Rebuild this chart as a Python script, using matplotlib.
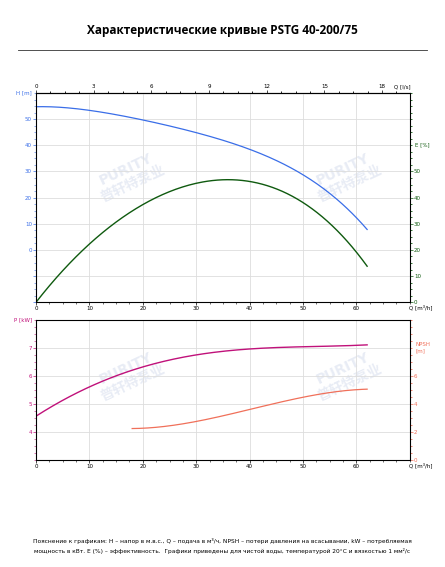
import numpy as np
import matplotlib.pyplot as plt
from matplotlib.ticker import MultipleLocator

# данные
q_h = [0, 5, 10, 15, 20, 25, 30, 35, 40, 45, 50, 56, 62]
h = [55, 54.2, 53, 51.7, 50, 47.8, 45, 41.7, 38, 33.8, 29, 20.5, 7.5]
q_e = [0, 5, 10, 15, 20, 25, 30, 35, 40, 45, 50, 55, 58, 62]
eff = [0, 12, 22.5, 30.5, 37, 42.5, 45.7, 47, 46, 43, 38, 30.5, 24, 13.6]
q_p = [0, 5, 10, 15, 20, 25, 30, 35, 40, 45, 50, 55, 62]
power = [4.57, 5.1, 5.62, 6.0, 6.32, 6.56, 6.75, 6.88, 6.95, 7.0, 7.04, 7.07, 7.1]
q_n = [18, 22, 25, 30, 35, 40, 45, 50, 55, 58, 62]
npsh = [2.25, 2.3, 2.4, 2.75, 3.15, 3.62, 4.05, 4.45, 4.8, 4.95, 5.05]

c_h = '#3a6ee8'
c_e = '#0f5a0f'
c_p = '#c0117a'
c_n = '#f0705a'
tfs = 4


def smooth(ax, x, y, deg, **kw):
    # сглаженная кривая через считанные точки
    p = np.polyfit(x, y, deg)
    xs = np.linspace(min(x), max(x), 200)
    ax.plot(xs, np.polyval(p, xs), **kw)


fig = plt.figure(figsize=(4.45, 5.67), dpi=100)
fig.text(0.5, 0.947, 'Характеристические кривые PSTG 40-200/75', ha='center',
         va='center', fontsize=8.5, fontweight='bold', family='Open Sans')
fig.add_artist(plt.Line2D([0.04, 0.96], [0.912, 0.912], color='#333333', lw=0.6))


def style(ax, lc):
    ax.set_xlim(0, 70)
    ax.xaxis.set_major_locator(MultipleLocator(10))
    ax.xaxis.set_minor_locator(MultipleLocator(2.5))
    ax.grid(True, which='major', color='#dddddd', lw=0.6)
    ax.tick_params(labelsize=tfs, length=2, width=0.5, pad=1)
    ax.tick_params(which='minor', length=1.2, width=0.4)
    ax.tick_params(axis='y', colors=lc)
    for s in ax.spines.values():
        s.set_color('#888888')
        s.set_linewidth(0.6)


# верхний график: H и КПД
ax1 = fig.add_axes([0.081, 0.467, 0.84, 0.369])
style(ax1, c_h)
ax1.set_ylim(-20, 60)
ax1.set_yticks([-20, -10, 0, 10, 20, 30, 40, 50])
ax1.set_yticklabels(['', '', '0', '10', '20', '30', '40', '50'])
ax1.yaxis.set_minor_locator(MultipleLocator(2.5))
ax1.tick_params(axis='y', which='minor', colors=c_h)
smooth(ax1, q_h, h, 4, color=c_h, lw=0.9)
ax1.set_xticks(range(0, 70, 10))
ax1.text(72, -20.8, 'Q [m³/h]', fontsize=tfs, va='top', ha='center')
ax1.text(-0.8, 60, 'H [m]', fontsize=tfs, color=c_h, ha='right', va='center')

ax1e = ax1.twinx()
ax1e.set_ylim(0, 80)
ax1e.set_yticks(range(0, 60, 10))
ax1e.yaxis.set_minor_locator(MultipleLocator(2.5))
ax1e.tick_params(labelsize=tfs, length=2, width=0.5, pad=1, colors=c_e)
ax1e.tick_params(which='minor', length=1.2, colors=c_e)
smooth(ax1e, q_e, eff, 4, color=c_e, lw=1.0)
ax1e.text(71, 60, 'E [%]', fontsize=tfs, color=c_e, va='center')

top = ax1.secondary_xaxis('top', functions=(lambda x: x / 3.6, lambda x: x * 3.6))
top.set_xticks(range(0, 19, 3))
top.xaxis.set_minor_locator(MultipleLocator(0.75))
top.tick_params(labelsize=tfs, length=2, width=0.5, pad=1)
top.tick_params(which='minor', length=1.2)
ax1.text(68.5, 61.8, 'Q [l/s]', fontsize=tfs, ha='center')

# нижний график: P и NPSH
ax2 = fig.add_axes([0.081, 0.189, 0.84, 0.247])
style(ax2, c_p)
ax2.set_ylim(3, 8)
ax2.set_yticks([4, 5, 6, 7])
ax2.yaxis.set_minor_locator(MultipleLocator(0.25))
ax2.tick_params(axis='y', which='minor', colors=c_p)
ax2.set_xticks(range(0, 70, 10))
smooth(ax2, q_p, power, 4, color=c_p, lw=1.0)
ax2.text(72, 2.9, 'Q [m³/h]', fontsize=tfs, va='top', ha='center')
ax2.text(-0.8, 8, 'P [kW]', fontsize=tfs, color=c_p, ha='right', va='center')

ax2n = ax2.twinx()
ax2n.set_ylim(0, 10)
ax2n.set_yticks([0, 2, 4, 6])
ax2n.yaxis.set_minor_locator(MultipleLocator(0.5))
ax2n.tick_params(labelsize=tfs, length=2, width=0.5, pad=1, colors=c_n)
ax2n.tick_params(which='minor', length=1.2, colors=c_n)
smooth(ax2n, q_n, npsh, 3, color=c_n, lw=0.9)
ax2n.text(71, 8, 'NPSH\n[m]', fontsize=tfs, color=c_n, va='center')

# водяные знаки
for ax in (ax1, ax2):
    for xx in (0.25, 0.83):
        ax.text(xx, 0.6, 'PURITY\n普轩特泵业', transform=ax.transAxes, fontsize=10,
                fontweight='bold', color='#e8ecf5', rotation=25, ha='center',
                va='center', family=['DejaVu Sans', 'Noto Sans CJK SC'],
                zorder=0)

fig.text(0.5, 0.037,
         'Пояснение к графикам: H – напор в м.в.с., Q – подача в м³/ч, NPSH – потери давления на всасывании, kW – потребляемая\n'
         'мощность в кВт. E (%) – эффективность.  Графики приведены для чистой воды, температурой 20°C и вязкостью 1 мм²/с',
         ha='center', va='center', fontsize=4.2, linespacing=1.7)

fig.savefig('out.png', dpi=100)
